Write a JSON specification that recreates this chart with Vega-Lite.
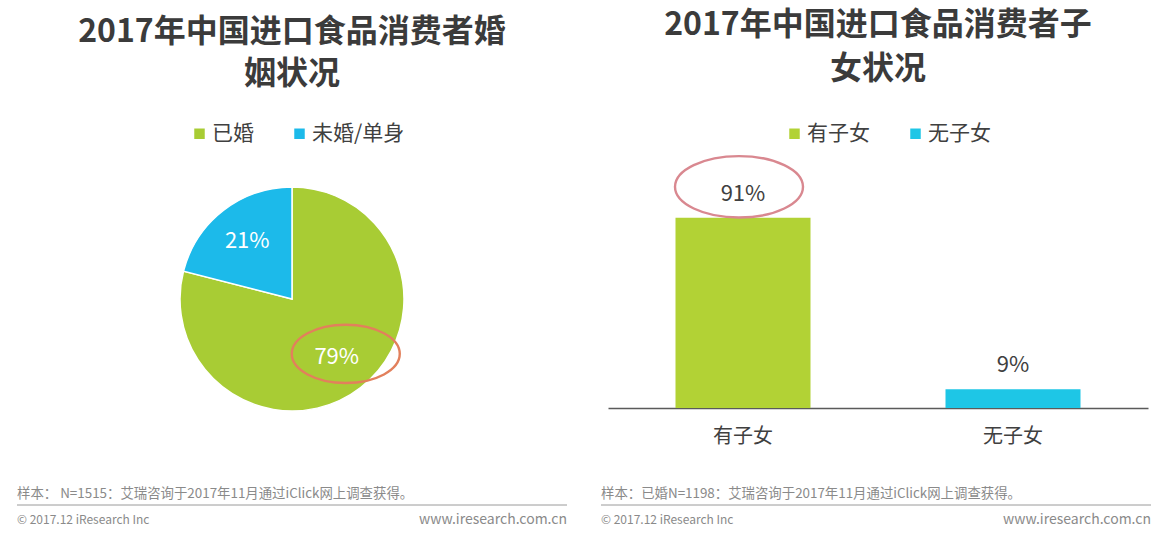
{
  "$schema": "https://vega.github.io/schema/vega-lite/v6.json",
  "padding": {"left": 0, "top": 9, "right": 0, "bottom": 0},
  "background": "white",
  "config": {
    "view": {"stroke": null},
    "font": "Noto Sans CJK SC",
    "title": {"fontSize": 32, "fontWeight": "bold", "color": "#3b3b3b", "anchor": "middle", "font": "Noto Sans CJK SC"},
    "legend": {"symbolType": "square", "symbolSize": 110, "symbolStrokeWidth": 0, "labelFontSize": 21, "labelColor": "#404040", "labelFont": "Noto Sans CJK SC", "columnPadding": 35, "labelOffset": 2}
  },
  "datasets": {
    "marital": [
      {"status": "已婚", "share": 0.79, "idx": 1},
      {"status": "未婚/单身", "share": 0.21, "idx": 2}
    ],
    "children": [
      {"cat": "有子女", "share": 0.91},
      {"cat": "无子女", "share": 0.09}
    ],
    "footer": [
      {"panel": "left", "line": "note", "side": "start", "text": "样本：  N=1515：艾瑞咨询于2017年11月通过iClick网上调查获得。"},
      {"panel": "left", "line": "copy", "side": "start", "text": "© 2017.12 iResearch Inc"},
      {"panel": "left", "line": "copy", "side": "end", "text": "www.iresearch.com.cn"},
      {"panel": "right", "line": "note", "side": "start", "text": "样本：已婚N=1198：艾瑞咨询于2017年11月通过iClick网上调查获得。"},
      {"panel": "right", "line": "copy", "side": "start", "text": "© 2017.12 iResearch Inc"},
      {"panel": "right", "line": "copy", "side": "end", "text": "www.iresearch.com.cn"}
    ]
  },
  "spacing": 41,
  "vconcat": [
    {
      "spacing": 24,
      "bounds": "flush",
      "resolve": {"scale": {"color": "independent"}, "legend": {"color": "independent"}},
      "hconcat": [
        {
          "width": 584,
          "height": 200,
          "title": {"text": ["2017年中国进口食品消费者婚", "姻状况"], "lineHeight": 42, "offset": 32},
          "data": {"name": "marital"},
          "layer": [
            {
              "mark": {"type": "arc", "outerRadius": 112, "stroke": "white", "strokeWidth": 1.5},
              "encoding": {
                "theta": {"field": "share", "type": "quantitative", "stack": true},
                "order": {"field": "idx", "type": "quantitative"},
                "color": {
                  "field": "status", "type": "nominal",
                  "scale": {"domain": ["已婚", "未婚/单身"], "range": ["#a8cc34", "#1cbaea"]},
                  "legend": {"title": null, "orient": "none", "direction": "horizontal", "legendX": 189, "legendY": -76}
                }
              }
            },
            {
              "mark": {"type": "text", "radius": 73, "fontSize": 22, "color": "#ffffff"},
              "encoding": {
                "theta": {"field": "share", "type": "quantitative", "stack": true},
                "order": {"field": "idx", "type": "quantitative"},
                "text": {"field": "share", "type": "quantitative", "format": ".0%"}
              }
            },
            {
              "transform": [{"filter": "datum.status === '已婚'"}],
              "mark": {"type": "point", "shape": "M -1 0 A 1 0.54 0 1 1 1 0 A 1 0.54 0 1 1 -1 0", "size": 11664, "filled": false, "stroke": "#e2805c", "strokeWidth": 2.4, "opacity": 1},
              "encoding": {
                "x": {"datum": 0.48, "type": "quantitative", "scale": {"domain": [-2.607, 2.607], "nice": false, "zero": false}, "axis": null},
                "y": {"datum": -0.49, "type": "quantitative", "scale": {"domain": [-0.893, 0.893], "nice": false, "zero": false}, "axis": null}
              }
            }
          ]
        },
        {
          "width": 540,
          "height": 209,
          "title": {"text": ["2017年中国进口食品消费者子", "女状况"], "lineHeight": 44, "offset": 37},
          "data": {"name": "children"},
          "encoding": {
            "x": {
              "field": "cat", "type": "nominal", "sort": ["有子女", "无子女"],
              "scale": {"paddingInner": 0.5, "paddingOuter": 0.25},
              "axis": {"title": null, "labelAngle": 0, "ticks": false, "labelFontSize": 20, "labelColor": "#404040", "labelPadding": 18, "domainColor": "#5a5a5a", "domainWidth": 1.5, "labelFont": "Noto Sans CJK SC"}
            },
            "y": {"field": "share", "type": "quantitative", "scale": {"domain": [0, 1]}, "axis": null}
          },
          "layer": [
            {
              "mark": {"type": "bar"},
              "encoding": {
                "color": {
                  "field": "cat", "type": "nominal",
                  "scale": {"domain": ["有子女", "无子女"], "range": ["#b2d235", "#1ec6e6"]},
                  "legend": {"title": null, "orient": "none", "direction": "horizontal", "legendX": 176, "legendY": -76}
                }
              }
            },
            {
              "mark": {"type": "text", "baseline": "bottom", "dy": -12, "fontSize": 22, "color": "#404040"},
              "encoding": {"text": {"field": "share", "type": "quantitative", "format": ".0%"}}
            },
            {
              "transform": [{"filter": "datum.cat === '有子女'"}],
              "mark": {"type": "point", "shape": "M -1 0 A 1 0.48 0 1 1 1 0 A 1 0.48 0 1 1 -1 0", "size": 16384, "filled": false, "stroke": "#d98890", "strokeWidth": 2.4, "opacity": 1, "yOffset": -31, "xOffset": -4}
            }
          ]
        }
      ]
    },
    {
      "width": 1151,
      "height": 26,
      "data": {"name": "footer"},
      "encoding": {
        "y": {"field": "line", "type": "nominal", "scale": {"type": "point", "domain": ["note", "copy"], "padding": 0}, "axis": null}
      },
      "layer": [
        {
          "transform": [{"filter": "datum.line === 'note'"}],
          "mark": {"type": "text", "align": "left", "fontSize": 13.4, "color": "#8a8a8a"},
          "encoding": {
            "x": {"field": "panel", "type": "nominal", "bandPosition": 0, "scale": {"type": "band", "domain": ["left", "right"], "paddingInner": 0.0582, "paddingOuter": 0.01455, "align": 1}, "axis": null},
            "text": {"field": "text"}
          }
        },
        {
          "transform": [{"filter": "datum.line === 'copy' && datum.side === 'start'"}],
          "mark": {"type": "text", "align": "left", "fontSize": 12, "color": "#8a8a8a"},
          "encoding": {
            "x": {"field": "panel", "type": "nominal", "bandPosition": 0, "scale": {"type": "band", "domain": ["left", "right"], "paddingInner": 0.0582, "paddingOuter": 0.01455, "align": 1}, "axis": null},
            "text": {"field": "text"}
          }
        },
        {
          "transform": [{"filter": "datum.side === 'end'"}],
          "mark": {"type": "text", "align": "right", "fontSize": 14, "color": "#8a8a8a"},
          "encoding": {
            "x": {"field": "panel", "type": "nominal", "bandPosition": 1, "scale": {"type": "band", "domain": ["left", "right"], "paddingInner": 0.0582, "paddingOuter": 0.01455, "align": 1}, "axis": null},
            "text": {"field": "text"}
          }
        },
        {
          "transform": [{"filter": "datum.line === 'note'"}],
          "mark": {"type": "rule", "color": "#9a9a9a", "strokeWidth": 1, "yOffset": 11},
          "encoding": {
            "x": {"field": "panel", "type": "nominal", "bandPosition": 0, "scale": {"type": "band", "domain": ["left", "right"], "paddingInner": 0.0582, "paddingOuter": 0.01455, "align": 1}, "axis": null},
            "x2": {"field": "panel", "bandPosition": 1}
          }
        }
      ]
    }
  ]
}
